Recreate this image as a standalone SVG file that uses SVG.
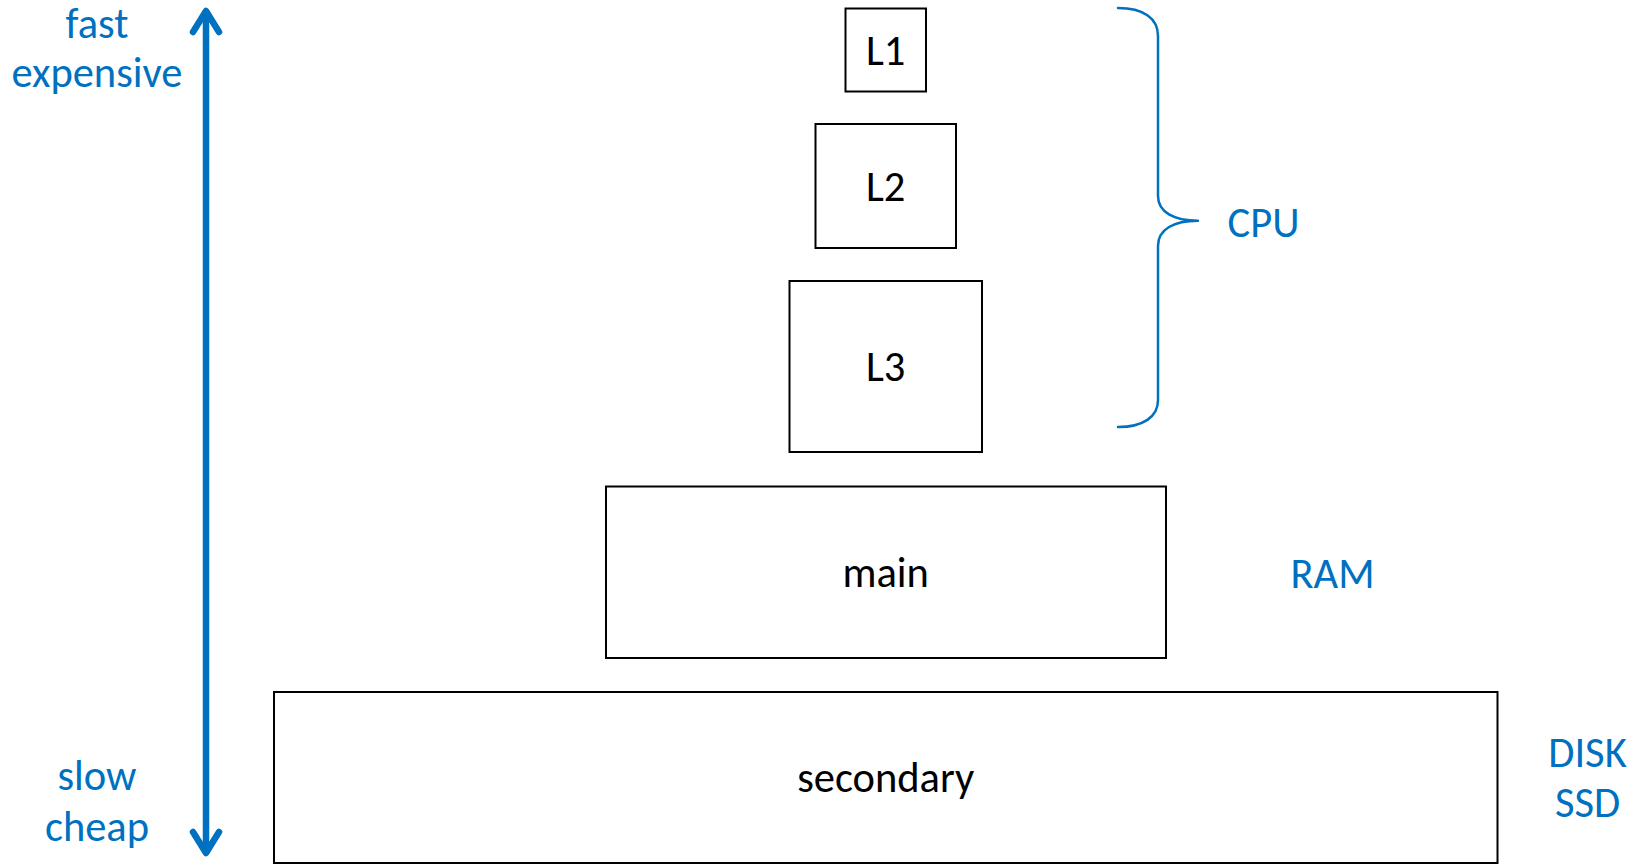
<svg xmlns="http://www.w3.org/2000/svg" width="1633" height="865" viewBox="0 0 1633 865">
  <style>
    text { font-family: Calibri, Carlito, Lato, "Open Sans", sans-serif; font-size: 42.5px; text-anchor: middle; }
    .lbl { fill: #000000; }
    .side { fill: #0070C0; }
    .box { fill: #ffffff; stroke: #000000; stroke-width: 2; }
    .blue { fill: none; stroke: #0070C0; stroke-linecap: round; stroke-linejoin: round; }
  </style>

  <rect width="1633" height="865" fill="#ffffff"/>

  <!-- speed / cost scale and the CPU brace -->
  <g id="connectors">
    <g id="scale-arrow" class="blue" stroke-width="6.5">
      <line x1="206" y1="13" x2="206" y2="851"/>
      <polyline points="193,32 206,11 219,32"/>
      <polyline points="193,832 206,853 219,832"/>
    </g>
    <path id="cpu-brace" class="blue" stroke-width="2.5"
          d="M1118,8 C1143,8 1158,18 1158,36 L1158,196 C1158,212 1174,220.7 1198,220.7 C1174,220.7 1158,229 1158,246 L1158,400 C1158,417 1143,427 1118,427"/>
  </g>

  <!-- memory levels -->
  <g id="l1">
    <rect class="box" x="845.5" y="8.5" width="80.5" height="83"/>
    <text class="lbl" x="885.7" y="64.5">L1</text>
  </g>
  <g id="l2">
    <rect class="box" x="815.5" y="124" width="140.5" height="124"/>
    <text class="lbl" x="885.7" y="201">L2</text>
  </g>
  <g id="l3">
    <rect class="box" x="789.5" y="281" width="192.5" height="171"/>
    <text class="lbl" x="885.7" y="381">L3</text>
  </g>
  <g id="main">
    <rect class="box" x="606" y="486.5" width="560" height="171.5"/>
    <text class="lbl" x="885.7" y="587">main</text>
  </g>
  <g id="secondary">
    <rect class="box" x="274" y="692" width="1223.5" height="171"/>
    <text class="lbl" x="885.7" y="792">secondary</text>
  </g>

  <!-- side labels -->
  <g id="fast-label">
    <text class="side" x="97" y="37.5">fast</text>
    <text class="side" x="97" y="87">expensive</text>
  </g>
  <g id="slow-label">
    <text class="side" x="97" y="790">slow</text>
    <text class="side" x="97" y="840.5">cheap</text>
  </g>
  <g id="cpu-label">
    <text class="side" x="1263.5" y="236.5">CPU</text>
  </g>
  <g id="ram-label">
    <text class="side" x="1332.5" y="587.5">RAM</text>
  </g>
  <g id="disk-label">
    <text class="side" x="1587.5" y="767">DISK</text>
    <text class="side" x="1587.5" y="817">SSD</text>
  </g>
</svg>
